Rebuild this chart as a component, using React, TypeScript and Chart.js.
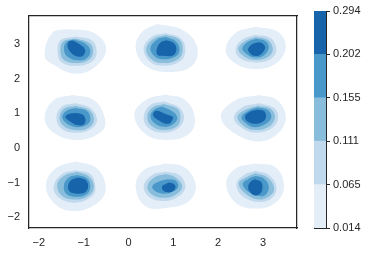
import React, { useEffect, useRef } from 'react';
import { Chart, registerables } from 'chart.js';
Chart.register(...registerables);

const levelBounds = [0.014, 0.065, 0.111, 0.155, 0.202, 0.294];
const levelColors = ['#e3eef8', '#c1d9ed', '#88bedc', '#4a98c9', '#1764ab'];
const xTicks = [-2, -1, 0, 1, 2, 3];
const yTicks = [-2, -1, 0, 1, 2, 3];

// contour outlines (x, y pairs) for each of the 9 blobs, one array per density level
const level1 = [
  [-1.33, 3.43, -0.77, 3.32, -0.5, 2.89, -0.7, 2.39, -1.18, 2.14, -1.7, 2.42, -1.87, 2.66, -1.7, 3.32],
  [0.64, 3.58, 1.2, 3.41, 1.53, 2.92, 1.42, 2.37, 0.9, 2.19, 0.38, 2.37, 0.16, 2.89, 0.31, 3.36],
  [2.84, 3.5, 3.32, 3.36, 3.51, 2.94, 3.32, 2.47, 2.84, 2.28, 2.35, 2.47, 2.17, 2.84, 2.39, 3.32],
  [-1.26, 1.53, -0.77, 1.38, -0.53, 0.87, -0.59, 0.49, -1.11, 0.23, -1.67, 0.44, -1.87, 0.87, -1.67, 1.38],
  [0.83, 1.54, 1.27, 1.38, 1.48, 0.87, 1.35, 0.4, 0.83, 0.23, 0.38, 0.4, 0.13, 0.96, 0.38, 1.38],
  [2.91, 1.53, 3.32, 1.38, 3.51, 0.87, 3.32, 0.4, 2.91, 0.19, 2.39, 0.4, 2.06, 0.91, 2.39, 1.38],
  [-1.18, -0.38, -0.7, -0.59, -0.51, -1.2, -0.74, -1.63, -1.26, -1.82, -1.67, -1.58, -1.84, -1.06, -1.63, -0.59],
  [0.83, -0.45, 1.24, -0.55, 1.5, -1.06, 1.35, -1.53, 0.9, -1.72, 0.38, -1.68, 0.16, -1.11, 0.34, -0.64],
  [2.84, -0.45, 3.28, -0.56, 3.47, -1.11, 3.28, -1.58, 2.84, -1.75, 2.39, -1.58, 2.18, -1.02, 2.39, -0.59],
];
const level2 = [
  [-1.18, 3.22, -0.82, 3.11, -0.71, 2.8, -0.8, 2.51, -1.14, 2.37, -1.49, 2.47, -1.58, 2.75, -1.52, 3.11],
  [0.83, 3.32, 1.16, 3.17, 1.27, 2.84, 1.16, 2.51, 0.75, 2.37, 0.46, 2.51, 0.34, 2.89, 0.53, 3.22],
  [2.84, 3.27, 3.17, 3.17, 3.3, 2.84, 3.17, 2.56, 2.84, 2.47, 2.5, 2.58, 2.39, 2.84, 2.54, 3.13],
  [-1.18, 1.29, -0.85, 1.15, -0.7, 0.82, -0.81, 0.57, -1.14, 0.44, -1.48, 0.54, -1.61, 0.87, -1.48, 1.2],
  [0.79, 1.34, 1.13, 1.17, 1.24, 0.87, 1.11, 0.57, 0.75, 0.44, 0.44, 0.58, 0.34, 0.91, 0.49, 1.24],
  [2.91, 1.29, 3.25, 1.15, 3.34, 0.87, 3.21, 0.58, 2.87, 0.44, 2.54, 0.57, 2.35, 0.87, 2.54, 1.17],
  [-1.18, -0.64, -0.85, -0.75, -0.74, -1.11, -0.81, -1.39, -1.18, -1.58, -1.55, -1.44, -1.67, -1.11, -1.48, -0.75],
  [0.83, -0.69, 1.13, -0.78, 1.27, -1.11, 1.13, -1.39, 0.83, -1.53, 0.49, -1.44, 0.34, -1.11, 0.53, -0.78],
  [2.84, -0.66, 3.13, -0.78, 3.3, -1.11, 3.21, -1.44, 2.91, -1.56, 2.54, -1.39, 2.41, -1.04, 2.58, -0.78],
];
const level3 = [
  [-1.18, 3.16, -0.87, 3.03, -0.79, 2.8, -0.87, 2.56, -1.14, 2.45, -1.44, 2.54, -1.52, 2.8, -1.46, 3.07],
  [0.83, 3.26, 1.13, 3.13, 1.21, 2.84, 1.11, 2.56, 0.75, 2.45, 0.49, 2.58, 0.4, 2.89, 0.59, 3.17],
  [2.84, 3.2, 3.12, 3.11, 3.22, 2.84, 3.12, 2.63, 2.84, 2.54, 2.58, 2.64, 2.45, 2.86, 2.6, 3.08],
  [-1.18, 1.22, -0.88, 1.1, -0.77, 0.82, -0.87, 0.6, -1.14, 0.51, -1.44, 0.63, -1.54, 0.87, -1.44, 1.13],
  [0.79, 1.27, 1.09, 1.13, 1.16, 0.87, 1.07, 0.61, 0.75, 0.52, 0.49, 0.66, 0.42, 0.94, 0.55, 1.18],
  [2.9, 1.22, 3.17, 1.13, 3.27, 0.89, 3.15, 0.63, 2.84, 0.52, 2.58, 0.63, 2.43, 0.89, 2.61, 1.1],
  [-1.14, -0.69, -0.88, -0.83, -0.77, -1.11, -0.88, -1.37, -1.18, -1.49, -1.48, -1.39, -1.59, -1.06, -1.44, -0.81],
  [0.83, -0.75, 1.05, -0.85, 1.2, -1.11, 1.05, -1.35, 0.79, -1.44, 0.53, -1.35, 0.42, -1.11, 0.57, -0.85],
  [2.84, -0.73, 3.1, -0.85, 3.25, -1.16, 3.15, -1.39, 2.91, -1.49, 2.61, -1.32, 2.46, -1.02, 2.65, -0.83],
];
const level4 = [
  [-1.22, 3.13, -0.96, 3.01, -0.85, 2.8, -0.94, 2.58, -1.14, 2.53, -1.37, 2.64, -1.44, 2.84, -1.39, 3.05],
  [0.83, 3.2, 1.05, 3.08, 1.14, 2.84, 1.05, 2.64, 0.75, 2.56, 0.57, 2.66, 0.49, 2.89, 0.64, 3.13],
  [2.85, 3.15, 3.06, 3.08, 3.13, 2.89, 3.02, 2.67, 2.82, 2.61, 2.65, 2.7, 2.54, 2.86, 2.65, 3.05],
  [-1.18, 1.15, -0.92, 1.06, -0.85, 0.82, -0.92, 0.68, -1.14, 0.6, -1.37, 0.7, -1.48, 0.89, -1.39, 1.07],
  [0.75, 1.2, 0.98, 1.06, 1.09, 0.87, 0.99, 0.68, 0.79, 0.61, 0.57, 0.73, 0.49, 0.94, 0.6, 1.13],
  [2.87, 1.17, 3.1, 1.1, 3.19, 0.89, 3.07, 0.7, 2.82, 0.6, 2.63, 0.7, 2.52, 0.89, 2.67, 1.07],
  [-1.14, -0.78, -0.92, -0.88, -0.85, -1.11, -0.92, -1.32, -1.14, -1.41, -1.39, -1.32, -1.44, -1.06, -1.33, -0.85],
  [0.87, -0.9, 1.05, -0.94, 1.11, -1.11, 1.01, -1.25, 0.79, -1.32, 0.6, -1.25, 0.53, -1.11, 0.68, -0.97],
  [2.84, -0.81, 3.02, -0.88, 3.13, -1.11, 3.06, -1.35, 2.91, -1.39, 2.69, -1.28, 2.55, -1.04, 2.69, -0.88],
];
const level5 = [
  [-1.24, 3.1, -1.09, 2.99, -0.97, 2.84, -1.01, 2.67, -1.14, 2.64, -1.27, 2.73, -1.36, 2.92, -1.33, 3.07],
  [0.84, 3.11, 1.01, 3.03, 1.07, 2.84, 0.99, 2.67, 0.75, 2.66, 0.64, 2.7, 0.64, 2.89, 0.72, 3.05],
  [2.9, 3.05, 3.0, 3.01, 3.05, 2.89, 2.95, 2.7, 2.8, 2.66, 2.7, 2.75, 2.67, 2.86, 2.76, 2.99],
  [-1.18, 1.01, -1.02, 0.96, -0.96, 0.82, -1.0, 0.68, -1.14, 0.66, -1.29, 0.75, -1.41, 0.89, -1.33, 0.98],
  [0.68, 1.07, 0.87, 0.96, 0.99, 0.89, 0.94, 0.73, 0.83, 0.7, 0.68, 0.79, 0.55, 0.94, 0.59, 1.06],
  [2.87, 1.1, 3.02, 1.07, 3.07, 0.91, 2.99, 0.75, 2.8, 0.7, 2.65, 0.77, 2.6, 0.91, 2.7, 1.04],
  [-1.12, -0.85, -0.96, -0.92, -0.9, -1.11, -0.97, -1.28, -1.14, -1.32, -1.29, -1.28, -1.35, -1.11, -1.27, -0.92],
  [0.9, -1.0, 1.01, -1.04, 1.05, -1.13, 0.99, -1.25, 0.87, -1.28, 0.77, -1.22, 0.75, -1.11, 0.83, -1.04],
  [2.82, -0.9, 2.95, -0.97, 2.99, -1.11, 2.95, -1.3, 2.82, -1.37, 2.7, -1.25, 2.67, -1.11, 2.73, -0.97],
];

const TEXT = '#262626';
const FONT = { family: "'Liberation Sans', Arial, sans-serif", size: 11 };
const fmt = (v: number) => (v < 0 ? '\u2212' + Math.abs(v) : String(v));

export default function App() {
  const mainRef = useRef<HTMLCanvasElement>(null);
  const cbRef = useRef<HTMLCanvasElement>(null);

  useEffect(() => {
    const levels = [level1, level2, level3, level4, level5];
    const datasets: any[] = [];
    levels.forEach((polys, li) => {
      polys.forEach((flat) => {
        const pts: { x: number; y: number }[] = [];
        for (let i = 0; i < flat.length; i += 2) pts.push({ x: flat[i], y: flat[i + 1] });
        pts.push({ ...pts[0] });
        datasets.push({
          data: pts,
          xAxisID: 'x',
          yAxisID: 'y',
          showLine: true,
          fill: 'shape',
          backgroundColor: levelColors[li],
          borderColor: 'rgba(0,0,0,0)',
          borderWidth: 0,
          pointRadius: 0,
          tension: 0.4,
          order: 5 - li,
        });
      });
    });

    const main = new Chart(mainRef.current!, {
      type: 'scatter',
      data: { datasets },
      options: {
        animation: false,
        responsive: false,
        events: [],
        layout: { padding: { top: 11, right: 71, left: 0, bottom: 0 } },
        plugins: { legend: { display: false }, tooltip: { enabled: false } },
        scales: {
          x: {
            type: 'linear', min: -2.22, max: 3.76,
            grid: { display: false, drawTicks: false },
            border: { display: true, color: TEXT, width: 1.25 },
            ticks: { padding: 8, color: TEXT, font: FONT, callback: (v: any) => fmt(Number(v)) },
            afterBuildTicks: (s: any) => { s.ticks = xTicks.map((v) => ({ value: v })); },
            afterFit: (s: any) => { s.height = 27; },
          },
          y: {
            type: 'linear', min: -2.31, max: 3.82,
            grid: { display: false, drawTicks: false },
            border: { display: true, color: TEXT, width: 1.25 },
            ticks: { padding: 9, color: TEXT, font: FONT, callback: (v: any) => fmt(Number(v)) },
            afterBuildTicks: (s: any) => { s.ticks = yTicks.map((v) => ({ value: v })); },
            afterFit: (s: any) => { s.width = 29; },
          },
          x2: {
            type: 'linear', position: 'top',
            grid: { display: false, drawTicks: false },
            border: { display: true, color: TEXT, width: 1.25 },
            ticks: { display: false },
            afterFit: (s: any) => { s.height = 0; },
          },
          y2: {
            type: 'linear', position: 'right',
            grid: { display: false, drawTicks: false },
            border: { display: true, color: TEXT, width: 1.25 },
            ticks: { display: false },
            afterFit: (s: any) => { s.width = 0; },
          },
        },
      } as any,
    });

    const cb = new Chart(cbRef.current!, {
      type: 'bar',
      data: {
        labels: [''],
        datasets: levelColors.map((c) => ({
          data: [1],
          xAxisID: 'x',
          yAxisID: 'y',
          backgroundColor: c,
          borderWidth: 0,
          barPercentage: 1,
          categoryPercentage: 1,
        })),
      },
      options: {
        animation: false,
        responsive: false,
        events: [],
        layout: { padding: { left: 14, top: 11, bottom: 0, right: 0 } },
        plugins: { legend: { display: false }, tooltip: { enabled: false } },
        scales: {
          x: {
            stacked: true,
            grid: { display: false, drawTicks: false },
            border: { display: true, color: TEXT, width: 1 },
            ticks: { display: false },
            afterFit: (s: any) => { s.height = 27; },
          },
          xt: {
            type: 'category', labels: [''], position: 'top',
            grid: { display: false, drawTicks: false },
            border: { display: true, color: TEXT, width: 1 },
            ticks: { display: false },
            afterFit: (s: any) => { s.height = 0; },
          },
          yl: {
            type: 'linear', position: 'left', min: 0, max: 5,
            grid: { display: false, drawTicks: false },
            border: { display: true, color: TEXT, width: 1 },
            ticks: { display: false },
            afterFit: (s: any) => { s.width = 0; },
          },
          y: {
            stacked: true, position: 'right', min: 0, max: 5,
            grid: { display: true, drawOnChartArea: false, drawTicks: true, tickLength: 4, color: TEXT, lineWidth: 1 },
            border: { display: true, color: TEXT, width: 1 },
            ticks: {
              padding: 3, color: TEXT, font: FONT,
              callback: (v: any, i: number) => levelBounds[i].toFixed(3),
            },
            afterBuildTicks: (s: any) => { s.ticks = levelBounds.map((_, i) => ({ value: i })); },
            afterFit: (s: any) => { s.width = 42; },
          },
        },
      } as any,
    });

    return () => {
      main.destroy();
      cb.destroy();
    };
  }, []);

  return (
    <div style={{ position: 'absolute', left: 0, top: 0, width: 368, height: 255, background: '#fff' }}>
      <canvas ref={mainRef} width={368} height={255} style={{ position: 'absolute', left: 0, top: 0 }} />
      <canvas ref={cbRef} width={68} height={255} style={{ position: 'absolute', left: 300, top: 0 }} />
    </div>
  );
}
